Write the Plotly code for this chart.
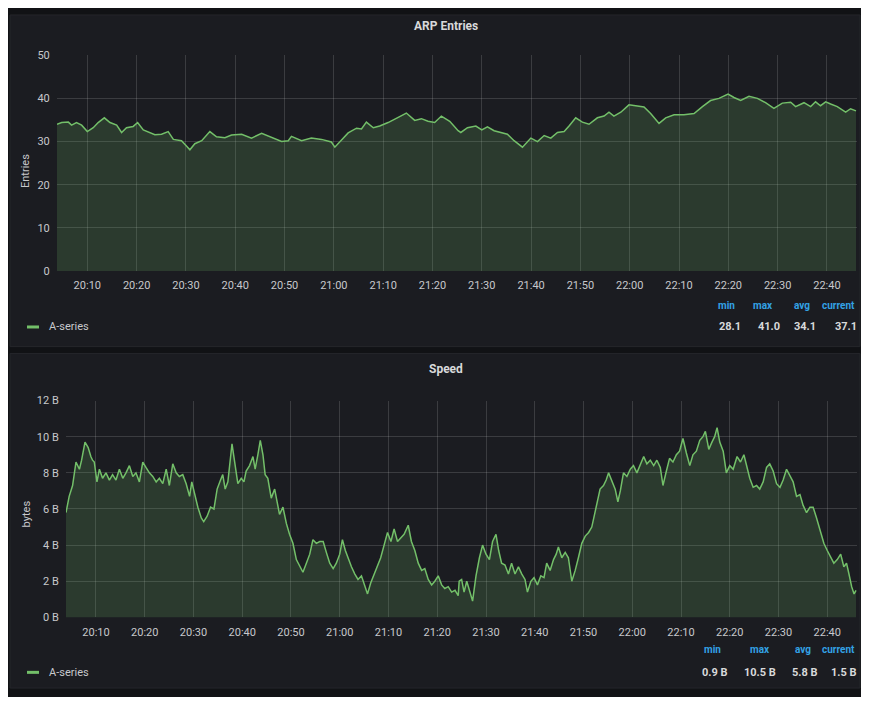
import pandas as pd
import plotly.graph_objects as go

# ---------------- data ----------------
# minutes after 20:00
arp_minutes = [3.85, 4.8, 6.15, 6.8, 7.8, 8.85, 10.0, 11.2, 12.2, 13.45, 14.6, 15.95, 16.95, 17.95,
               19.3, 20.2, 21.35, 22.7, 23.7, 25.05, 26.4, 27.45, 29.1, 30.15, 30.8, 31.8, 33.2,
               34.85, 36.2, 37.9, 39.25, 41.3, 43.3, 45.35, 47.35, 49.4, 50.75, 51.4, 53.45, 55.45,
               57.5, 59.5, 60.2, 61.2, 62.9, 64.6, 65.6, 66.6, 68.0, 69.3, 71.0, 73.05, 74.7, 76.4,
               77.75, 79.1, 80.45, 81.8, 83.5, 85.2, 85.75, 87.1, 88.8, 90.0, 91.15, 92.5, 93.85,
               95.2, 96.55, 98.25, 99.95, 101.3, 102.65, 104.0, 105.35, 106.7, 107.7, 109.05,
               110.4, 111.75, 113.45, 114.8, 115.8, 116.8, 118.2, 119.85, 121.2, 122.9, 124.25,
               125.95, 127.3, 129.0, 131.0, 133.05, 134.75, 136.4, 138.1, 139.95, 141.15, 142.5,
               144.2, 145.9, 147.55, 149.25, 150.95, 152.65, 153.65, 155.35, 156.7, 157.7, 158.7,
               159.75, 160.75, 162.1, 163.8, 164.8, 165.9]
arp_entries = [34.0, 34.4, 34.5, 33.8, 34.4, 33.8, 32.3, 33.2, 34.4, 35.5, 34.4, 33.8, 32.1, 33.2,
               33.5, 34.4, 32.7, 32.1, 31.6, 31.7, 32.3, 30.5, 30.2, 28.9, 28.1, 29.5, 30.2,
               32.3, 31.1, 30.9, 31.5, 31.7, 30.8, 31.9, 30.9, 30.0, 30.2, 31.2, 30.2, 30.8,
               30.5, 29.9, 28.7, 30.0, 32.0, 33.1, 32.9, 34.5, 33.2, 33.6, 34.4, 35.6, 36.6, 34.9,
               35.3, 34.7, 34.4, 35.9, 34.7, 32.5, 32.1, 33.2, 33.6, 32.7, 33.4, 32.5, 32.1,
               31.7, 30.2, 28.7, 30.8, 30.0, 31.4, 30.8, 32.1, 32.3, 33.6, 35.5,
               34.5, 34.0, 35.5, 35.9, 36.8, 35.9, 36.8, 38.5, 38.3, 38.0, 36.5,
               34.2, 35.5, 36.2, 36.2, 36.5, 38.1, 39.5, 40.0, 41.0, 40.2, 39.5,
               40.5, 40.0, 39.0, 37.7, 38.9, 39.1, 38.1, 39.0, 38.1, 39.2, 38.3,
               39.2, 38.7, 38.1, 36.8, 37.6, 37.1]

speed_minutes = [3.85, 4.5, 5.2, 5.9, 6.6, 7.05, 7.75, 8.4, 8.95, 9.3, 9.65, 10.2, 10.7, 11.35, 12.05,
                 12.75, 13.4, 14.1, 14.8, 15.5, 16.15, 16.85, 17.55, 18.2, 18.9, 19.6, 20.25, 20.95,
                 21.65, 22.35, 23.0, 23.7, 24.4, 25.05, 25.75, 26.45, 27.1, 27.8, 28.5, 29.2, 29.65,
                 30.2, 30.9, 31.6, 32.1, 32.8, 33.5, 34.2, 34.85, 35.55, 36.0, 36.5, 37.05, 37.9,
                 38.55, 39.1, 39.8, 40.35, 40.8, 41.5, 42.2, 42.65, 43.2, 43.7, 44.25, 44.7, 45.25,
                 45.95, 46.65, 47.2, 47.65, 48.35, 49.05, 49.7, 50.4, 51.1, 51.8, 52.45, 53.15,
                 53.85, 54.5, 55.2, 55.9, 56.6, 57.25, 57.95, 58.65, 59.3, 60.0, 60.55, 61.15, 61.7,
                 62.4, 63.1, 63.75, 64.45, 65.15, 65.7, 66.35, 67.05, 67.75, 68.4, 69.1, 69.8, 70.5,
                 71.15, 71.85, 72.55, 73.2, 74.05, 74.7, 75.4, 76.1, 76.8, 77.45, 78.15, 78.85,
                 79.5, 80.2, 80.9, 81.55, 82.25, 82.95, 83.65, 84.3, 84.5, 85.0, 85.5, 86.05, 86.6,
                 87.25, 87.95, 88.65, 89.3, 90.0, 90.7, 91.35, 92.05, 92.6, 93.2, 93.9, 94.6, 95.25,
                 95.95, 96.65, 97.35, 98.0, 98.5, 99.2, 99.85, 100.55, 101.25, 101.9, 102.45, 103.15,
                 103.85, 104.4, 104.85, 105.55, 106.25, 106.9, 107.6, 108.3, 108.95, 109.65, 110.35,
                 111.05, 111.7, 112.2, 112.75, 113.4, 114.1, 114.65, 115.15, 115.8, 116.5, 117.05,
                 117.55, 118.2, 118.9, 119.6, 120.25, 120.95, 121.65, 122.35, 123.0, 123.7, 124.4,
                 125.05, 125.75, 126.3, 127.0, 127.65, 128.35, 129.05, 129.7, 130.4, 131.1, 131.8,
                 132.45, 133.15, 133.85, 134.5, 135.0, 135.7, 136.35, 136.9, 137.4, 137.95, 138.65,
                 139.3, 140.0, 140.7, 141.5, 142.2, 142.9, 143.4, 144.1, 144.8, 145.5, 146.15,
                 146.85, 147.55, 148.2, 148.9, 149.6, 150.3, 150.95, 151.65, 152.35, 153.0, 153.7,
                 154.4, 155.05, 155.75, 156.45, 157.1, 157.8, 158.65, 159.3, 160.0, 160.7, 161.35,
                 162.05, 162.75, 163.4, 163.95, 164.45, 165.0, 165.5, 165.9]
speed_bytes = [5.8, 6.7, 7.3, 8.6, 8.2, 8.7, 9.7, 9.4, 8.9, 8.7, 8.6, 7.5, 8.2, 7.7, 8.0,
               7.6, 7.9, 7.6, 8.2, 7.7, 8.0, 8.4, 7.8, 8.0, 7.5, 8.6, 8.3, 8.0,
               7.8, 7.5, 7.7, 7.4, 8.2, 7.3, 8.5, 8.0, 7.8, 7.9, 7.4, 6.7, 7.5,
               6.8, 6.1, 5.5, 5.3, 5.6, 6.1, 6.0, 7.1, 7.6, 7.9, 7.1, 7.5, 9.6,
               8.4, 7.4, 7.7, 7.5, 8.1, 8.4, 8.9, 8.2, 9.0, 9.8, 9.0, 7.9, 7.7,
               6.6, 7.1, 6.4, 5.7, 6.1, 5.2, 4.6, 4.1, 3.2, 2.8, 2.5, 3.0,
               3.5, 4.3, 4.1, 4.2, 4.2, 3.6, 3.0, 2.7, 3.0, 3.5, 4.3, 3.7, 3.3,
               2.8, 2.4, 2.1, 2.3, 1.7, 1.3, 1.9, 2.4, 2.9, 3.3, 4.0, 4.7, 4.2,
               4.9, 4.2, 4.4, 4.6, 5.1, 4.2, 3.7, 3.0, 2.6, 2.7, 2.1, 1.8,
               2.0, 2.3, 1.8, 1.6, 1.7, 1.4, 1.5, 1.2, 2.0, 2.1, 1.4, 2.0, 1.5,
               0.9, 2.3, 3.3, 4.0, 3.5, 3.2, 4.2, 4.6, 3.7, 3.0, 2.9, 2.4, 3.0,
               2.4, 2.8, 2.4, 2.1, 1.4, 2.0, 2.2, 1.8, 2.3, 2.2, 3.0, 2.6,
               3.2, 3.5, 3.9, 3.3, 3.6, 3.3, 2.0, 2.6, 3.3, 4.1, 4.5,
               4.7, 5.0, 5.6, 6.4, 7.1, 7.3, 7.6, 8.0, 7.6, 7.1, 6.4,
               7.0, 8.0, 7.8, 8.2, 8.4, 8.0, 8.5, 8.9, 8.5, 8.7, 8.4,
               8.7, 8.3, 7.3, 8.1, 8.8, 8.6, 9.0, 9.2, 9.9, 9.1, 8.4,
               9.0, 9.2, 9.8, 10.0, 10.3, 9.3, 9.7, 10.0, 10.5, 9.7, 9.2,
               8.0, 8.4, 8.2, 8.9, 8.6, 9.0, 8.4, 7.7, 7.2, 7.3, 7.1,
               7.5, 8.3, 8.5, 8.1, 7.4, 7.2, 7.6, 8.2, 7.8, 7.5, 6.7,
               6.8, 6.2, 5.8, 6.1, 6.1, 5.5, 4.7, 4.1, 3.7, 3.3, 3.0,
               3.2, 3.5, 2.8, 3.0, 2.4, 1.7, 1.3, 1.5]

arp_ticks = [0, 10, 20, 30, 40, 50]
speed_ticks = [0, 2, 4, 6, 8, 10, 12]
speed_tick_labels = ["0 B", "2 B", "4 B", "6 B", "8 B", "10 B", "12 B"]
stat_names = ["min", "max", "avg", "current"]
arp_stats = ["28.1", "41.0", "34.1", "37.1"]
speed_stats = ["0.9 B", "10.5 B", "5.8 B", "1.5 B"]
series_name = "A-series"

# ---------------- helpers ----------------
# The page body has an 8px default margin; the visible area is about 861 x 697,
# so the figure is sized to fit inside it.
OFF = 8
W, H = 861 - OFF, 697 - OFF
BASE = pd.Timestamp("2024-01-01 20:00:00")


def px_x(p):
    return (p - OFF) / W


def px_y(p):
    return 1 - (p - OFF) / H


def to_time(mins):
    return [BASE + pd.Timedelta(minutes=m) for m in mins]


LINE = "#73bf69"
FILL = "rgba(115,191,105,0.19)"
PANEL = "#1b1c21"
CANVAS = "#111215"
GRID = "rgba(255,255,255,0.14)"
TICKC = "#c7c8cc"
FONT = "Roboto, Inter, sans-serif"

fig = go.Figure()
fig.add_trace(go.Scatter(x=to_time(arp_minutes), y=arp_entries, mode="lines",
                         line=dict(color=LINE, width=1.5), fill="tozeroy", fillcolor=FILL,
                         name=series_name, showlegend=False, xaxis="x", yaxis="y"))
fig.add_trace(go.Scatter(x=to_time(speed_minutes), y=speed_bytes, mode="lines",
                         line=dict(color=LINE, width=1.5), fill="tozeroy", fillcolor=FILL,
                         name=series_name, showlegend=False, xaxis="x2", yaxis="y2"))

xrange_ = [BASE + pd.Timedelta(minutes=3.85), BASE + pd.Timedelta(minutes=166.1)]

common_x = dict(type="date", range=xrange_, tickformat="%H:%M",
                tick0=BASE, dtick=600000, showgrid=True, gridcolor=GRID, gridwidth=1,
                zeroline=False, showline=False, ticks="outside", ticklen=4,
                tickcolor="rgba(0,0,0,0)", tickfont=dict(size=11, color=TICKC, family=FONT))
common_y = dict(showgrid=True, gridcolor=GRID, gridwidth=1, zeroline=False, showline=False,
                ticks="outside", ticklen=4, tickcolor="rgba(0,0,0,0)",
                tickfont=dict(size=11, color=TICKC, family=FONT))

shapes = [
    dict(type="rect", xref="paper", yref="paper", x0=px_x(10), x1=px_x(860), y0=px_y(347), y1=px_y(9),
         fillcolor=PANEL, line=dict(color="#25262b", width=1), layer="below"),
    dict(type="rect", xref="paper", yref="paper", x0=px_x(10), x1=px_x(860), y0=px_y(695), y1=px_y(354),
         fillcolor=PANEL, line=dict(color="#25262b", width=1), layer="below"),
    # legend swatches
    dict(type="line", xref="paper", yref="paper", x0=px_x(27), x1=px_x(39), y0=px_y(327), y1=px_y(327),
         line=dict(color=LINE, width=3)),
    dict(type="line", xref="paper", yref="paper", x0=px_x(27), x1=px_x(39), y0=px_y(679), y1=px_y(679),
         line=dict(color=LINE, width=3)),
]

ann = []


def text(x, y, s, size=11, color=TICKC, bold=False, xanchor="center", angle=0):
    ann.append(dict(x=px_x(x), y=px_y(y), xref="paper", yref="paper", text=("<b>%s</b>" % s) if bold else s,
                    showarrow=False, xanchor=xanchor, yanchor="middle", textangle=angle,
                    font=dict(size=size, color=color, family=FONT)))


text(446, 20, "ARP Entries", size=12, color="#d8d9da", bold=True)
text(446, 370, "Speed", size=12, color="#d8d9da", bold=True)
text(26, 168, "Entries", size=11, color=TICKC, angle=-90)
text(26, 518, "bytes", size=11, color=TICKC, angle=-90)
text(47, 327, series_name, size=11, color=TICKC, xanchor="left")
text(47, 679, series_name, size=11, color=TICKC, xanchor="left")

top_head_x = [737, 775, 812, 857]
top_val_x = [743, 782, 818, 859]
bot_head_x = [723, 772, 813, 857]
bot_val_x = [730, 778, 820, 859]
for i, name in enumerate(stat_names):
    text(top_head_x[i], 305, name, size=10, color="#33a2e5", bold=True, xanchor="right")
    text(top_val_x[i], 327, arp_stats[i], size=11, color="#d8d9da", bold=True, xanchor="right")
    text(bot_head_x[i], 656, name, size=10, color="#33a2e5", bold=True, xanchor="right")
    text(bot_val_x[i], 679, speed_stats[i], size=11, color="#d8d9da", bold=True, xanchor="right")

fig.update_layout(
    width=W, height=H, autosize=False,
    margin=dict(l=0, r=0, t=0, b=0),
    paper_bgcolor=CANVAS, plot_bgcolor=PANEL,
    font=dict(family=FONT, color=TICKC),
    showlegend=False,
    xaxis=dict(domain=[px_x(57), px_x(857)], anchor="y", **common_x),
    yaxis=dict(domain=[px_y(270), px_y(50)], anchor="x", range=[0, 50], tickvals=arp_ticks, **common_y),
    xaxis2=dict(domain=[px_x(66), px_x(857)], anchor="y2", **common_x),
    yaxis2=dict(domain=[px_y(623), px_y(402)], anchor="x2", range=[0, 12], tickvals=speed_ticks,
                ticktext=speed_tick_labels, **common_y),
    shapes=shapes,
    annotations=ann,
)

fig.write_html("out.html")
